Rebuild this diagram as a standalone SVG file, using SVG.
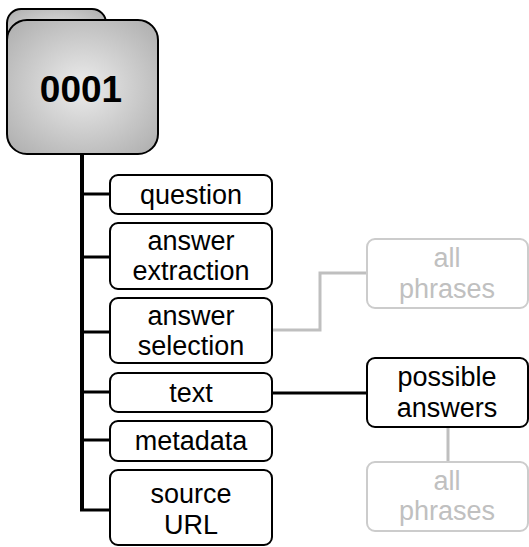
<svg xmlns="http://www.w3.org/2000/svg" width="529" height="547" viewBox="0 0 529 547">
  <defs>
    <radialGradient id="folderFill" cx="50%" cy="50%" r="75%">
      <stop offset="0" stop-color="#ececec"/>
      <stop offset="1" stop-color="#a8a8a8"/>
    </radialGradient>
  </defs>
  <style>
    .box { fill: #ffffff; stroke: #000000; stroke-width: 2; }
    .ghost { fill: #ffffff; stroke: #cccccc; stroke-width: 2; }
    .lbl { font-family: "Liberation Sans", Arial, sans-serif; font-size: 27px; fill: #000000; text-anchor: middle; }
    .glbl { font-family: "Liberation Sans", Arial, sans-serif; font-size: 27px; fill: #c0c0c0; text-anchor: middle; }
    .trunk { stroke: #000000; stroke-width: 4; fill: none; }
    .link { stroke: #000000; stroke-width: 3; fill: none; }
    .glink { stroke: #bfbfbf; stroke-width: 3; fill: none; }
  </style>

  <g id="connectors">
    <line class="trunk" x1="82" y1="150" x2="82" y2="510"/>
    <polyline class="link" points="80,194 110,194"/>
    <polyline class="link" points="80,257 110,257"/>
    <polyline class="link" points="80,332 110,332"/>
    <polyline class="link" points="80,392 110,392"/>
    <polyline class="link" points="80,440 110,440"/>
    <polyline class="link" points="80,510 110,510"/>
    <polyline class="link" points="272,393 367,393"/>
    <polyline class="glink" points="272,330 320,330 320,273 367,273"/>
    <line class="glink" x1="448" y1="427" x2="448" y2="462"/>
  </g>

  <g id="folder">
    <rect x="7" y="9" width="99" height="60" rx="14" fill="url(#folderFill)" stroke="#000" stroke-width="2"/>
    <rect x="7" y="20" width="151" height="134" rx="20" fill="url(#folderFill)" stroke="#000" stroke-width="2"/>
    <text x="81" y="102" font-family="Liberation Sans, Arial, sans-serif" font-size="37" font-weight="bold" text-anchor="middle">0001</text>
  </g>

  <g id="question">
    <rect class="box" x="110" y="175" width="162" height="39" rx="8"/>
    <text class="lbl" x="191" y="204">question</text>
  </g>

  <g id="answer-extraction">
    <rect class="box" x="110" y="223" width="162" height="66" rx="8"/>
    <text class="lbl" x="191" y="250">answer</text>
    <text class="lbl" x="191" y="280">extraction</text>
  </g>

  <g id="answer-selection">
    <rect class="box" x="110" y="298" width="162" height="65" rx="8"/>
    <text class="lbl" x="191" y="325">answer</text>
    <text class="lbl" x="191" y="355">selection</text>
  </g>

  <g id="text">
    <rect class="box" x="110" y="373" width="162" height="39" rx="8"/>
    <text class="lbl" x="191" y="402">text</text>
  </g>

  <g id="metadata">
    <rect class="box" x="110" y="421" width="162" height="40" rx="8"/>
    <text class="lbl" x="191" y="450">metadata</text>
  </g>

  <g id="source-url">
    <rect class="box" x="110" y="470" width="162" height="75" rx="8"/>
    <text class="lbl" x="191" y="503">source</text>
    <text class="lbl" x="191" y="534">URL</text>
  </g>

  <g id="all-phrases-1">
    <rect class="ghost" x="367" y="239" width="161" height="69" rx="8"/>
    <text class="glbl" x="447" y="267">all</text>
    <text class="glbl" x="447" y="298">phrases</text>
  </g>

  <g id="possible-answers">
    <rect class="box" x="367" y="358" width="161" height="69" rx="8"/>
    <text class="lbl" x="447" y="386">possible</text>
    <text class="lbl" x="447" y="417">answers</text>
  </g>

  <g id="all-phrases-2">
    <rect class="ghost" x="367" y="462" width="161" height="69" rx="8"/>
    <text class="glbl" x="447" y="490">all</text>
    <text class="glbl" x="447" y="520">phrases</text>
  </g>
</svg>
